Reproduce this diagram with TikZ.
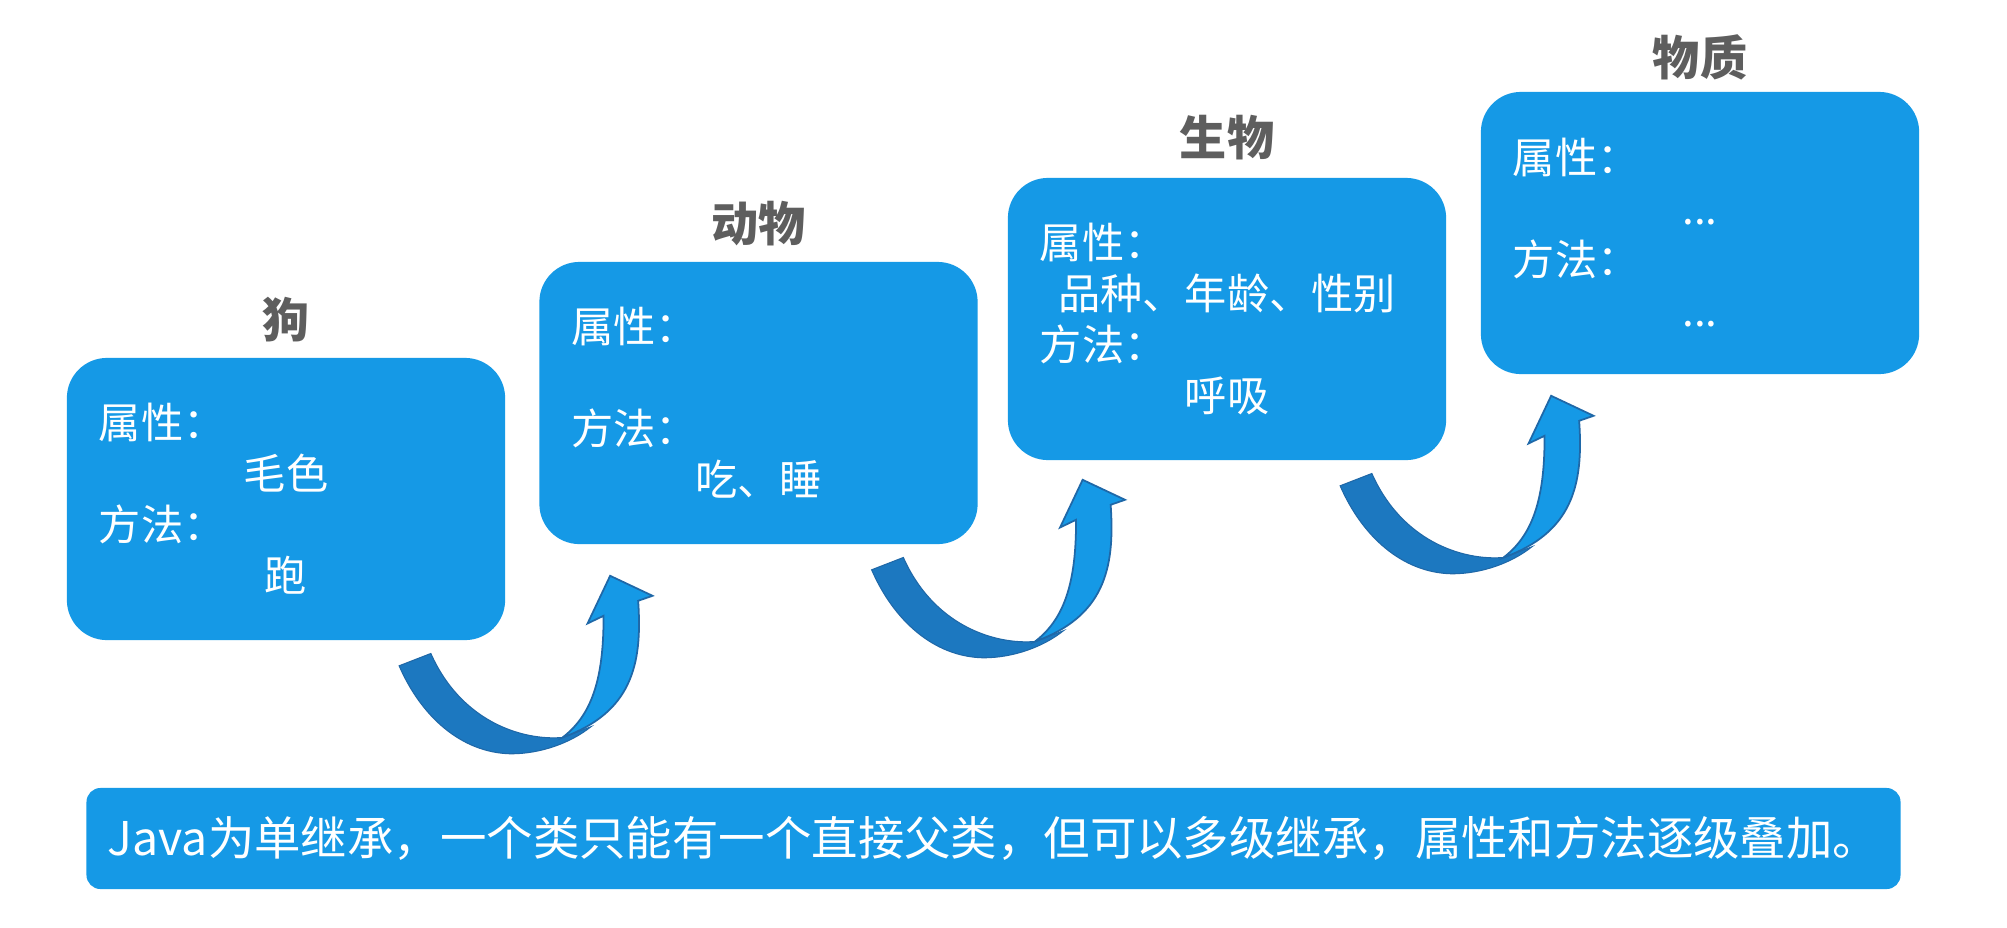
\documentclass[tikz,border=0pt]{standalone}
\usepackage{fontspec}
\setmainfont{Noto Sans CJK SC}
\usetikzlibrary{positioning}
\definecolor{skyblue}{HTML}{1599E6}
\definecolor{deepblue}{HTML}{1C78C0}
\definecolor{rimblue}{HTML}{1F68A8}
\definecolor{namegray}{HTML}{5E5E5E}
\newcommand{\valueline}[1]{\makebox[\linewidth]{#1}}

\begin{document}
\begin{tikzpicture}[
  x=0.01cm,y=-0.01cm,
  classbox/.style={fill=skyblue,rounded corners=0.4cm,minimum width=4.38cm,
    minimum height=2.82cm,text width=3.74cm,align=left,inner sep=0pt,
    text=white,font=\fontsize{12}{14.5}\selectfont},
  classname/.style={font=\fontsize{13.4}{16}\selectfont\bfseries,text=namegray},
  banner/.style={fill=skyblue,rounded corners=0.14cm,minimum width=18.13cm,
    minimum height=1.01cm,inner sep=0pt,text=white,
    font=\fontsize{13.2}{16}\selectfont},
  bendarrow/.pic={
    % back half of the ribbon, darker
    \filldraw[fill=deepblue,draw=rimblue,line width=0.3pt]
      (-106.7,25) .. controls (-85,75) and (-45,112) .. (5,113)
      .. controls (35,113) and (65,102) .. (85,86)
      -- (56.7,96.7) .. controls (15,100) and (-45,80) .. (-75,12.7) -- cycle;
    \filldraw[fill=skyblue,draw=rimblue,line width=0.5pt]
      (56.7,96.7) .. controls (85,75) and (98,40) .. (97.7,-25)
      -- (81.7,-17.3) -- (104.3,-65) -- (146.7,-45) -- (132.3,-40)
      .. controls (137,25) and (125,72) .. (56.7,96.7) -- cycle;
  }
]
\useasboundingbox[fill=white] (0,0) rectangle (2007,927);

\node[classbox] (dog) at (286,499)
  {属性：\\ \valueline{毛色}\\ 方法：\\ \valueline{跑}};
\node[classbox] (animal) at (758.5,403)
  {属性：\\ \mbox{}\\ 方法：\\ \valueline{吃、睡}};
\node[classbox] (being) at (1227,319)
  {属性：\\ \valueline{品种、年龄、性别}\\ 方法：\\ \valueline{呼吸}};
\node[classbox] (matter) at (1700,233)
  {属性：\\ \valueline{...}\\ 方法：\\ \valueline{...}};

\node[classname] (dogname) at ([yshift=0.38cm]dog.north) {狗};
\node[classname] (animalname) at ([yshift=0.38cm]animal.north) {动物};
\node[classname] (beingname) at ([yshift=0.4cm]being.north) {生物};
\node[classname] (mattername) at ([yshift=0.34cm]matter.north) {物质};

% each ribbon climbs from a box to the one above it
\pic at (dog.south east) {bendarrow};
\pic at (animal.south east) {bendarrow};
\pic at (being.south east) {bendarrow};

\node[banner] (note) at (993.5,838.5)
  {Java为单继承，一个类只能有一个直接父类，但可以多级继承，属性和方法逐级叠加。};
\end{tikzpicture}
\end{document}
